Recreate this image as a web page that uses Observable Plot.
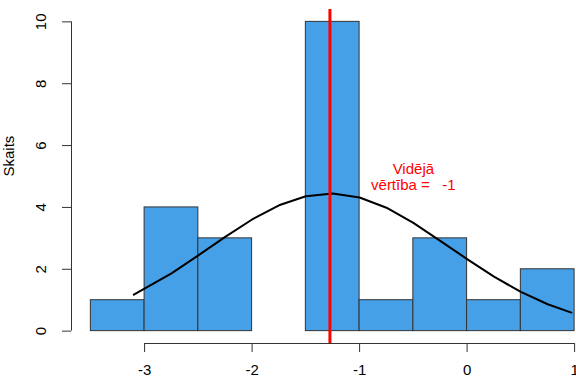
<!DOCTYPE html>
<html>
<head>
<meta charset="utf-8">
<script src="https://cdn.jsdelivr.net/npm/d3@7"></script>
<script src="https://cdn.jsdelivr.net/npm/@observablehq/plot@0.6"></script>
<style>
  html, body { margin: 0; padding: 0; background: #fff; }
  svg text, svg tspan { font-family: "Liberation Sans", Arial, sans-serif !important; font-size: 15px !important; }
</style>
</head>
<body>
<div id="chart"></div>
<script>
// Histogram bins (left edges, right edges) and counts
const binStart = [-3.5, -3.0, -2.5, -2.0, -1.5, -1.0, -0.5, 0.0, 0.5];
const binEnd   = [-3.0, -2.5, -2.0, -1.5, -1.0, -0.5, 0.0, 0.5, 1.0];
const counts   = [1, 4, 3, 0, 10, 1, 3, 1, 2];

// Fitted normal curve
const curveX = [-3.1, -2.75, -2.5, -2.25, -2.0, -1.75, -1.5, -1.25, -1.0, -0.75, -0.5, -0.25, 0.0, 0.25, 0.5, 0.75, 0.97];
const curveY = [1.18, 1.87, 2.45, 3.05, 3.61, 4.07, 4.36, 4.45, 4.32, 3.99, 3.50, 2.92, 2.33, 1.76, 1.27, 0.87, 0.60];

// Mean line
const meanValue = -1.276;
const meanLabel = "Vidējā\nvērtība =\u00a0\u00a0\u00a0-1";
const labelX = -0.5;
const labelY = 5.0;

// Axis ticks
const xTicks = [-3, -2, -1, 0, 1];
const yTicks = [0, 2, 4, 6, 8, 10];
const yLabel = "Skaits";

const bins = binStart.map((s, i) => ({x1: s, x2: binEnd[i], y: counts[i]}));
const curve = curveX.map((x, i) => ({x, y: curveY[i]}));

const xMin = -3.5, xMax = 1.0, yMax = 10;
const xPad = 0.04 * (xMax - xMin);
const yPad = 0.04 * yMax;
const yBottom = -yPad;

const plot = Plot.plot({
  width: 576,
  height: 377,
  marginLeft: 71,
  marginRight: 0,
  marginTop: 9,
  marginBottom: 34,
  style: {fontFamily: "'Liberation Sans', Arial, sans-serif", fontSize: "15px", background: "#fff"},
  x: {domain: [xMin - xPad, xMax + xPad], range: [71, 71 + (xMax - xMin + 2 * xPad) * 107.5]},
  y: {domain: [-yPad, yMax + yPad]},
  marks: [
    Plot.rectY(bins, {x1: "x1", x2: "x2", y1: 0, y2: "y", fill: "#46A0E8", stroke: "#333", strokeWidth: 1}),
    Plot.line(curve, {x: "x", y: "y", stroke: "#000", strokeWidth: 2, curve: "linear"}),
    Plot.ruleX([meanValue], {stroke: "#ff0000", strokeWidth: 3}),
    Plot.text([meanLabel], {x: labelX, y: labelY, text: d => d, fill: "#ff0000", fontSize: 15, lineHeight: 1.1, textAnchor: "middle"}),
    // X axis
    Plot.ruleY([yBottom], {x1: xTicks[0], x2: xTicks[xTicks.length - 1], stroke: "#333"}),
    Plot.axisX({ticks: xTicks, tickSize: 9, tickPadding: 12, tickFormat: d => String(d).replace("−", "-"), stroke: "#333", fill: "#000", fontSize: 15, label: null}),
    // Y axis
    Plot.ruleX([xMin - xPad], {y1: yTicks[0], y2: yTicks[yTicks.length - 1], stroke: "#333"}),
    Plot.axisY({ticks: yTicks, tickSize: 9, tickPadding: 17, tickRotate: -90, tickFormat: d => String(d), stroke: "#333", fill: "#000", fontSize: 15, label: null}),
    Plot.text([yLabel], {frameAnchor: "left", dx: -62, rotate: -90, text: d => d, fontSize: 15, fill: "#000"})
  ]
});
document.getElementById("chart").appendChild(plot);
</script>
</body>
</html>
